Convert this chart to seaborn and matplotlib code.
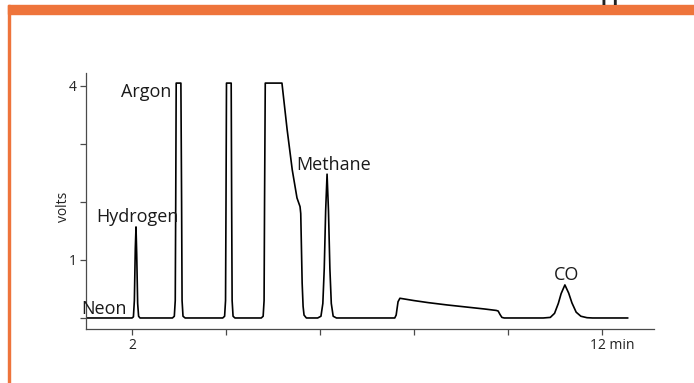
import numpy as np
import pandas as pd
import matplotlib
matplotlib.use("Agg")
import matplotlib.pyplot as plt
import matplotlib.transforms as mtransforms
from matplotlib.patches import Rectangle
import seaborn as sns

# ---- data (time in min, signal in volts) ----
time_min = [
    1.02, 2.00, 2.03, 2.05, 2.07, 2.085, 2.10, 2.12, 2.14, 2.17,
    2.86, 2.90, 2.92, 2.93, 2.94, 3.04, 3.055, 3.065, 3.085, 3.13,
    3.93, 3.97, 3.99, 4.00, 4.01, 4.11, 4.12, 4.13, 4.15, 4.19,
    4.75, 4.79, 4.81, 4.82, 4.835, 5.19, 5.30, 5.41, 5.51, 5.575, 5.59, 5.62, 5.64, 5.66, 5.71,
    5.95, 6.02, 6.06, 6.09, 6.12, 6.15, 6.18, 6.21, 6.24, 6.28, 6.35,
    7.59, 7.62, 7.66, 7.70, 8.00, 8.30, 8.70, 9.10, 9.50, 9.75, 9.79, 9.83, 9.87, 9.92,
    10.75, 10.90, 10.99, 11.07, 11.13, 11.21, 11.29, 11.36, 11.45, 11.55, 11.68, 11.80, 12.55,
]
volts = [
    0.0, 0.0, 0.02, 0.30, 1.20, 1.57, 1.10, 0.25, 0.03, 0.0,
    0.0, 0.03, 0.30, 2.00, 4.05, 4.05, 2.00, 0.30, 0.03, 0.0,
    0.0, 0.03, 0.30, 2.00, 4.05, 4.05, 2.00, 0.30, 0.03, 0.0,
    0.0, 0.03, 0.30, 2.00, 4.05, 4.05, 3.25, 2.55, 2.07, 1.92, 1.80, 0.60, 0.20, 0.05, 0.0,
    0.0, 0.03, 0.25, 0.85, 1.85, 2.48, 1.85, 0.85, 0.25, 0.03, 0.0,
    0.0, 0.05, 0.28, 0.34, 0.30, 0.265, 0.225, 0.19, 0.155, 0.13, 0.12, 0.06, 0.01, 0.0,
    0.0, 0.01, 0.08, 0.25, 0.42, 0.57, 0.43, 0.26, 0.10, 0.03, 0.005, 0.0, 0.0,
]

peak_names = ["Neon", "Hydrogen", "Argon", "Methane", "CO"]
peak_label_x = [1.404, 2.106, 2.30, 6.30, 11.255]
peak_label_y = [0.07, 1.65, 3.81, 2.55, 0.66]

x_ticks = [2, 4, 6, 8, 10, 12]
x_tick_labels = ["2", "", "", "", "", "12 min"]
y_ticks = [0, 1, 2, 3, 4]
y_tick_labels = ["", "1", "", "", "4"]

df = pd.DataFrame({"time": time_min, "volts": volts})

sns.set_style("white")
plt.rcParams["font.family"] = ["Open Sans", "DejaVu Sans"]

fig = plt.figure(figsize=(6.94, 3.83), dpi=100)
ax = fig.add_axes([86 / 694, 1 - 329 / 383, (654 - 86) / 694, (329 - 73) / 383])

sns.lineplot(data=df, x="time", y="volts", sort=False, estimator=None,
             color="black", linewidth=1.2, ax=ax)

ax.set_xlim(1.021, 13.106)
ax.set_ylim(-0.19, 4.224)

ax.set_xticks(x_ticks)
ax.set_xticklabels(x_tick_labels)
ax.set_yticks(y_ticks)
ax.set_yticklabels(y_tick_labels)

spine_col = "#4a4a4a"
for s in ["top", "right"]:
    ax.spines[s].set_visible(False)
for s in ["left", "bottom"]:
    ax.spines[s].set_color(spine_col)
    ax.spines[s].set_linewidth(0.9)

ax.tick_params(axis="both", which="both", direction="out", length=4.5, width=0.9,
               color=spine_col, labelsize=10, labelcolor="#222222", pad=2)
ax.tick_params(axis="x", bottom=True)
ax.tick_params(axis="y", left=True)

# shift "12 min" so that "12" sits right under its tick
lab = ax.get_xticklabels()[-1]
lab.set_horizontalalignment("left")
lab.set_transform(lab.get_transform() + mtransforms.ScaledTranslation(-12 / 100, 0, fig.dpi_scale_trans))

ax.set_xlabel("")
ax.set_ylabel("volts", fontsize=10, color="#222222")
ax.yaxis.set_label_coords(-0.026, 0.477)

for name, tx, ty in zip(peak_names, peak_label_x, peak_label_y):
    ax.text(tx, ty, name, ha="center", va="baseline", fontsize=13, color="#1a1a1a")

# orange frame (top bar and left bar)
orange = "#EE743B"
fig.patches.append(Rectangle((8 / 694, 1 - 14 / 383), 1 - 8 / 694, 9 / 383,
                             transform=fig.transFigure, color=orange, zorder=0))
fig.patches.append(Rectangle((8 / 694, 0), 2.2 / 694, 1 - 5 / 383,
                             transform=fig.transFigure, color=orange, zorder=0))

# cut-off heading above the frame (only descenders visible, as in the reference)
fig.text(601 / 694, 1.0, "pp", ha="left", va="baseline", fontsize=14,
         fontweight="bold", color="#222222")

fig.savefig("out.png", dpi=100)
